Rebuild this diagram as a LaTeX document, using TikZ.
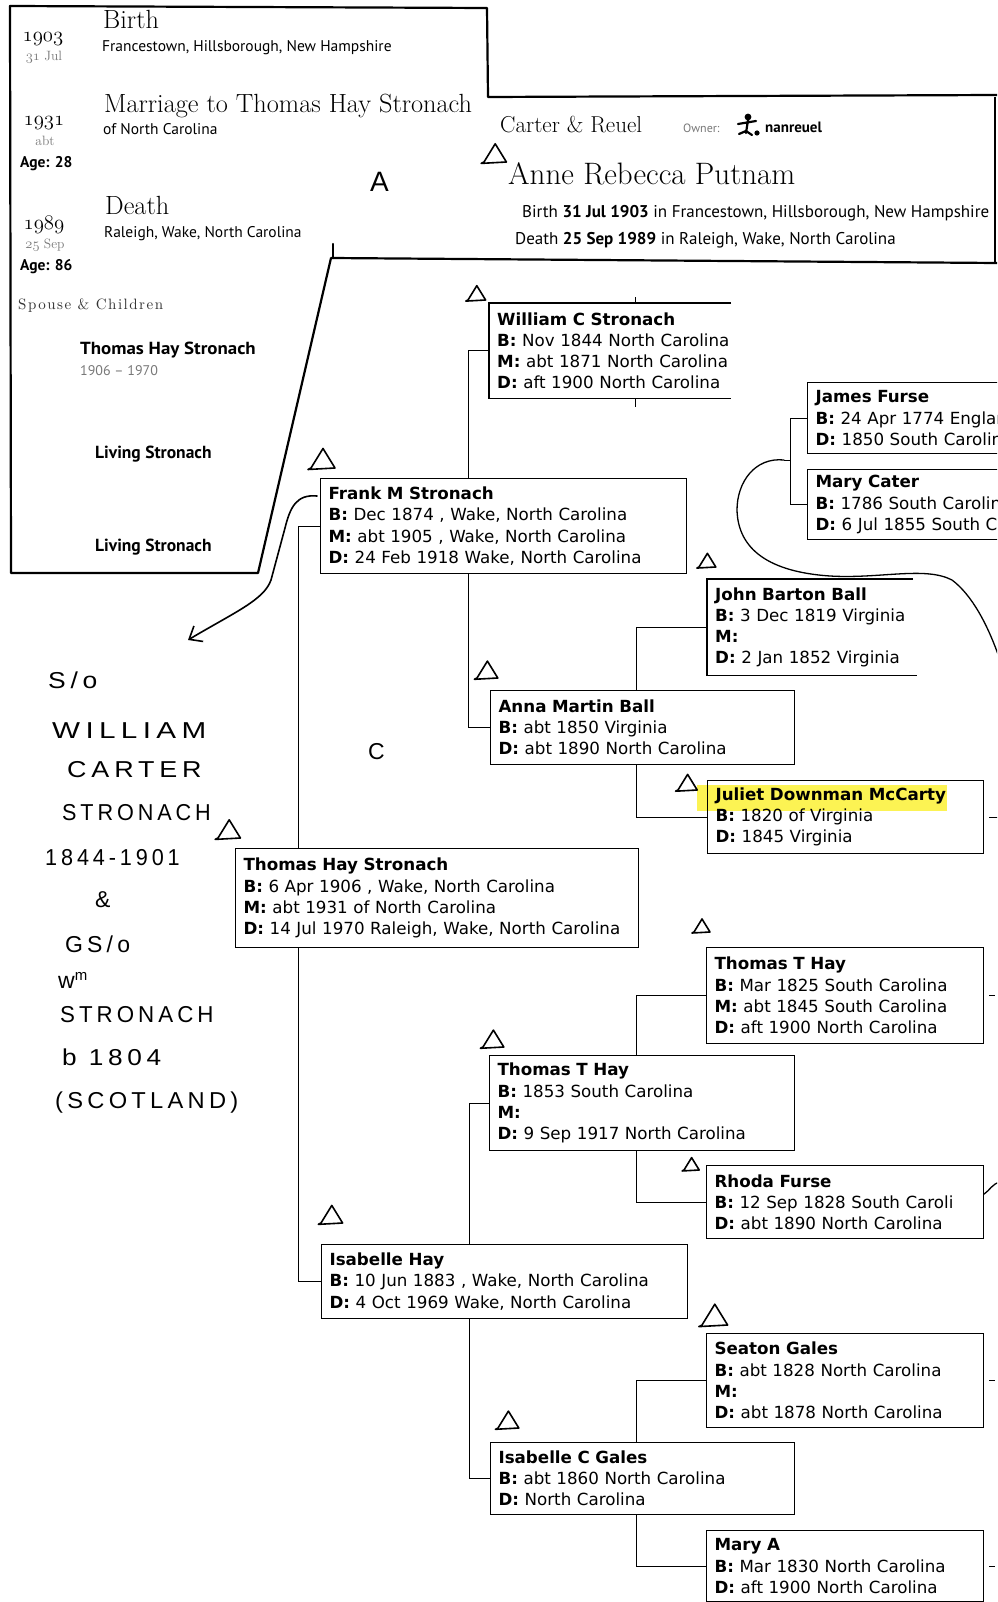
\documentclass[tikz,border=0pt]{standalone}
\usepackage{fontspec}
\usetikzlibrary{arrows.meta}
\newfontfamily\treefont{DejaVu Sans}
\newfontfamily\uifont{PT Sans}
\newfontfamily\handfont[LetterSpace=18]{Liberation Sans}
\newfontfamily\spacedserif[LetterSpace=10]{lmroman10-regular.otf}
\newcommand\osn[1]{{\usefont{OML}{cmm}{m}{it}#1}}
\definecolor{dategrey}{RGB}{120,120,120}
\definecolor{marker}{RGB}{252,240,40}

\begin{document}
\begin{tikzpicture}[x=1pt, y=-1pt,
  pen/.style={line width=2.2pt, line cap=round, line join=round},
  hand/.style={line width=1.6pt, line cap=round, line join=round},
  tree/.style={line width=1pt},
  pbox/.style={anchor=north west, align=left, inner xsep=8pt, inner ysep=0pt,
    font={\treefont\fontsize{16.7}{21.2}\selectfont}},
  box/.style={pbox, draw, line width=1.1pt},
  year/.style={anchor=base, inner sep=0pt, font={\fontsize{21.5}{24}\selectfont}},
  day/.style={anchor=base, inner sep=0pt, text=dategrey, font={\fontsize{13.5}{15}\selectfont}},
  age/.style={anchor=base west, inner sep=0pt, font={\uifont\bfseries\fontsize{15.5}{17}\selectfont}},
  kin/.style={anchor=base west, inner sep=0pt, font={\uifont\bfseries\fontsize{17.5}{20}\selectfont}},
  event/.style={anchor=base west, inner sep=0pt, font={\fontsize{26.3}{29}\selectfont}},
  place/.style={anchor=base west, inner sep=0pt, font={\uifont\fontsize{15.5}{18}\selectfont}},
  head/.style={anchor=base west, inner sep=0pt, font={\uifont\fontsize{17}{20}\selectfont}},
  handtext/.style={anchor=base west, inner sep=0pt, font={\handfont\fontsize{23}{26}\selectfont}},
  tri/.pic={\draw[hand] (-2,1) -- (0,0) -- (8,-13) -- (16,0) -- cycle;}]
\clip (0,0) rectangle (997,1602);
\fill[white] (0,0) rectangle (997,1602);

% pen frame round the cut-out panels
\draw[pen] (10,6) -- (487,8) -- (488,97) -- (997,95);
\draw[pen] (10,6) -- (11,573) -- (258,573) -- (331,258) -- (997,263);
\draw[pen] (333,258) -- (333,244);
\draw[line width=1.2pt] (995,97) -- (995,263);

% facts of Anne
\node[year] (y1903) at (43,42) {\osn{1903}};
\node[day] (d1903) at (44,61) {\osn{31} Jul};
\node[event] (birth) at (103,29) {Birth};
\node[place] (birthp) at (102,52) {Francestown, Hillsborough, New Hampshire};
\node[year] (y1931) at (44,126) {\osn{1931}};
\node[day] (d1931) at (45,146) {abt};
\node[age] (age28) at (20,168) {Age: 28};
\node[event] (marr) at (104,113) {Marriage to Thomas Hay Stronach};
\node[place] (marrp) at (103,135) {of North Carolina};
\node[year] (y1989) at (44,230) {\osn{1989}};
\node[day] (d1989) at (45,249) {\osn{25} Sep};
\node[age] (age86) at (20,271) {Age: 86};
\node[event] (death) at (105,215) {Death};
\node[place] (deathp) at (104,238) {Raleigh, Wake, North Carolina};

\node[anchor=base west, inner sep=0pt, text=black!80, font={\spacedserif\fontsize{15}{17}\selectfont}] (spouse) at (18,309) {Spouse \& Children};
\node[kin] (sp1) at (80,354) {\scalebox{1.08}[1]{Thomas Hay Stronach}};
\node[anchor=base west, inner sep=0pt, text=dategrey, font={\uifont\fontsize{14}{16}\selectfont}] (sp1d) at (80,375) {1906 – 1970};
\node[kin] (sp2) at (95,458) {Living Stronach};
\node[kin] (sp3) at (95,551) {Living Stronach};

% header
\node[anchor=base west, inner sep=0pt, font={\fontsize{23}{26}\selectfont}] (treename) at (500,133) {Carter \& Reuel};
\node[anchor=base west, inner sep=0pt, text=dategrey, font={\uifont\fontsize{12}{14}\selectfont}] (owner) at (683,133) {Owner:};
\fill (748,117) circle (3.4);
\draw[line width=2.2pt, line cap=round] (738,124) -- (756,121) (748,120) -- (746,133) (739,134) -- (746,131) -- (752,135);
\fill (757,133) circle (2.6);
\node[anchor=base west, inner sep=0pt, font={\uifont\bfseries\fontsize{15}{17}\selectfont}] (ownername) at (765,133) {nanreuel};
\node[anchor=base west, inner sep=0pt, font={\fontsize{31}{34}\selectfont}] (anne) at (508,185) {Anne Rebecca Putnam};
\node[head] (hbirth) at (522,218) {Birth \textbf{31 Jul 1903} in Francestown, Hillsborough, New Hampshire};
\node[head] (hdeath) at (515,245) {Death \textbf{25 Sep 1989} in Raleigh, Wake, North Carolina};

% tree boxes
\node[pbox, text width=250, minimum height=95] (william) at (489,303) {\textbf{William C Stronach}\\\textbf{B:} Nov 1844 North Carolina\\\textbf{M:} abt 1871 North Carolina\\\textbf{D:} aft 1900 North Carolina};
\node[box, text width=350, minimum height=95] (frank) at (320,478) {\textbf{Frank M Stronach}\\\textbf{B:} Dec 1874 , Wake, North Carolina\\\textbf{M:} abt 1905 , Wake, North Carolina\\\textbf{D:} 24 Feb 1918 Wake, North Carolina};
\node[box, text width=250, minimum height=71] (james) at (807,382) {\textbf{James Furse}\\\textbf{B:} 24 Apr 1774 England\\\textbf{D:} 1850 South Carolina};
\node[box, text width=250, minimum height=70] (marycater) at (807,469) {\textbf{Mary Cater}\\\textbf{B:} 1786 South Carolina\\\textbf{D:} 6 Jul 1855 South Carolina};
\node[pbox, text width=250, minimum height=96] (john) at (707,579) {\textbf{John Barton Ball}\\\textbf{B:} 3 Dec 1819 Virginia\\\textbf{M:}\\\textbf{D:} 2 Jan 1852 Virginia};
\node[box, text width=288, minimum height=74] (anna) at (490,690) {\textbf{Anna Martin Ball}\\\textbf{B:} abt 1850 Virginia\\\textbf{D:} abt 1890 North Carolina};
\fill[marker, opacity=0.8] (697,785) rectangle (947,811);
\node[box, text width=260, minimum height=73] (juliet) at (707,780) {\textbf{Juliet Downman McCarty}\\\textbf{B:} 1820 of Virginia\\\textbf{D:} 1845 Virginia};
\node[box, text width=387, minimum height=99] (thomas) at (235,848) {\textbf{Thomas Hay Stronach}\\\textbf{B:} 6 Apr 1906 , Wake, North Carolina\\\textbf{M:} abt 1931 of North Carolina\\\textbf{D:} 14 Jul 1970 Raleigh, Wake, North Carolina};
\node[box, text width=261, minimum height=96] (thomasth) at (706,947) {\textbf{Thomas T Hay}\\\textbf{B:} Mar 1825 South Carolina\\\textbf{M:} abt 1845 South Carolina\\\textbf{D:} aft 1900 North Carolina};
\node[box, text width=289, minimum height=95] (thomastt) at (489,1055) {\textbf{Thomas T Hay}\\\textbf{B:} 1853 South Carolina\\\textbf{M:}\\\textbf{D:} 9 Sep 1917 North Carolina};
\node[box, text width=261, minimum height=73] (rhoda) at (706,1165) {\textbf{Rhoda Furse}\\\textbf{B:} 12 Sep 1828 South Caroli\\\textbf{D:} abt 1890 North Carolina};
\node[box, text width=350, minimum height=74] (isabelle) at (321,1244) {\textbf{Isabelle Hay}\\\textbf{B:} 10 Jun 1883 , Wake, North Carolina\\\textbf{D:} 4 Oct 1969 Wake, North Carolina};
\node[box, text width=261, minimum height=94] (seaton) at (706,1333) {\textbf{Seaton Gales}\\\textbf{B:} abt 1828 North Carolina\\\textbf{M:}\\\textbf{D:} abt 1878 North Carolina};
\node[box, text width=288, minimum height=72] (gales) at (490,1442) {\textbf{Isabelle C Gales}\\\textbf{B:} abt 1860 North Carolina\\\textbf{D:} North Carolina};
\node[box, text width=261, minimum height=71] (marya) at (706,1530) {\textbf{Mary A}\\\textbf{B:} Mar 1830 North Carolina\\\textbf{D:} aft 1900 North Carolina};

% open boxes
\draw[tree, line width=1.1pt] (william.north west) ++(242,0) -- (william.north west) -- (william.south west) -- ++(242,0);
\draw[tree, line width=1.1pt] (john.north west) ++(206,0) -- (john.north west) -- (john.south west) -- ++(210,0);

% tree lines
\draw[tree] ([xshift=63]thomas.north west) |- (frank.west);
\draw[tree] ([xshift=63]thomas.south west) |- (isabelle.west);
\draw[tree] ([xshift=148]frank.north west) |- (william.west);
\draw[tree] ([xshift=148]frank.south west) |- (anna.west);
\draw[tree] ([xshift=146]anna.north west) |- (john.west);
\draw[tree] ([xshift=146]anna.south west) |- (juliet.west);
\draw[tree] ([xshift=148]isabelle.north west) |- (thomastt.west);
\draw[tree] ([xshift=148]isabelle.south west) |- (gales.west);
\draw[tree] ([xshift=147]thomastt.north west) |- (thomasth.west);
\draw[tree] ([xshift=147]thomastt.south west) |- (rhoda.west);
\draw[tree] ([xshift=146]gales.north west) |- (seaton.west);
\draw[tree] ([xshift=146]gales.south west) |- (marya.west);
\coordinate (fursebr) at (790,460);
\draw[tree] (james.west) -| (fursebr) |- (marycater.west);
\draw[tree] (fursebr) -- ++(-6,0) coordinate (curvestart);
\draw[tree] ([xshift=146]william.north west) -- ++(0,-6);
\draw[tree] ([xshift=146]william.south west) -- ++(0,9);
\draw[tree] ([xshift=5]juliet.east) -- ++(9,0);
\draw[tree] ([xshift=5]thomasth.east) -- ++(6,0);
\draw[tree] ([xshift=5]seaton.east) -- ++(6,0);
\draw[tree] ([xshift=5]marya.east) -- ++(6,0);

% pen notes
\draw[hand, line width=1.3pt] (curvestart) .. controls (755,457) and (737,482) .. (737,510) .. controls (738,550) and (770,572) .. (830,576) .. controls (880,579) and (925,566) .. (952,580) .. controls (972,595) and (988,625) .. (1000,660);
\draw[hand, line width=1.3pt] ([yshift=8]rhoda.east) .. controls (990,1190) and (992,1184) .. (1000,1182);
\draw[hand, -{Straight Barb[length=11pt,width=18pt]}] ([xshift=-3,yshift=-18]frank.north west) .. controls (296,494) and (290,508) .. (285,528) -- (271,580) .. controls (264,600) and (235,612) .. (188,640);

\pic[scale=1.4] at (484,162) {tri};
\pic[scale=1.1] at (468,300) {tri};
\pic[scale=1.5] at (311,468) {tri};
\pic[scale=1.05] at (699,567) {tri};
\pic[scale=1.3] at (477,678) {tri};
\pic[scale=1.2] at (678,790) {tri};
\pic[scale=1.4] at (218,838) {tri};
\pic[scale=1.0] at (694,932) {tri};
\pic[scale=1.3] at (483,1047) {tri};
\pic[scale=0.95] at (684,1170) {tri};
\pic[scale=1.35] at (321,1223) {tri};
\pic[scale=1.6] at (702,1325) {tri};
\pic[scale=1.3] at (498,1428) {tri};

\node[handtext, font={\handfont\fontsize{28}{30}\selectfont}] (markA) at (370,192) {A};
\node[handtext] (markC) at (368,759) {C};
\node[handtext] (note1) at (48,688) {\scalebox{1.15}[1]{S/o}};
\node[handtext] (note2) at (52,738) {\scalebox{1.29}[1]{WILLIAM}};
\node[handtext] (note3) at (67,777) {\scalebox{1.17}[1]{CARTER}};
\node[handtext] (note4) at (62,820) {\scalebox{0.94}[1]{STRONACH}};
\node[handtext] (note5) at (45,865) {\scalebox{0.94}[1]{1844-1901}};
\node[handtext] (note6) at (95,907) {\&};
\node[handtext] (note7) at (65,952) {GS/o};
\node[handtext] (note8) at (58,988) {w\raisebox{8pt}{\fontsize{15}{15}\selectfont m}};
\node[handtext] (note9) at (60,1022) {\scalebox{0.97}[1]{STRONACH}};
\node[handtext] (note10) at (62,1065) {\scalebox{1.14}[1]{b 1804}};
\node[handtext] (note11) at (55,1108) {\scalebox{1.03}[1]{(SCOTLAND)}};
\end{tikzpicture}
\end{document}
